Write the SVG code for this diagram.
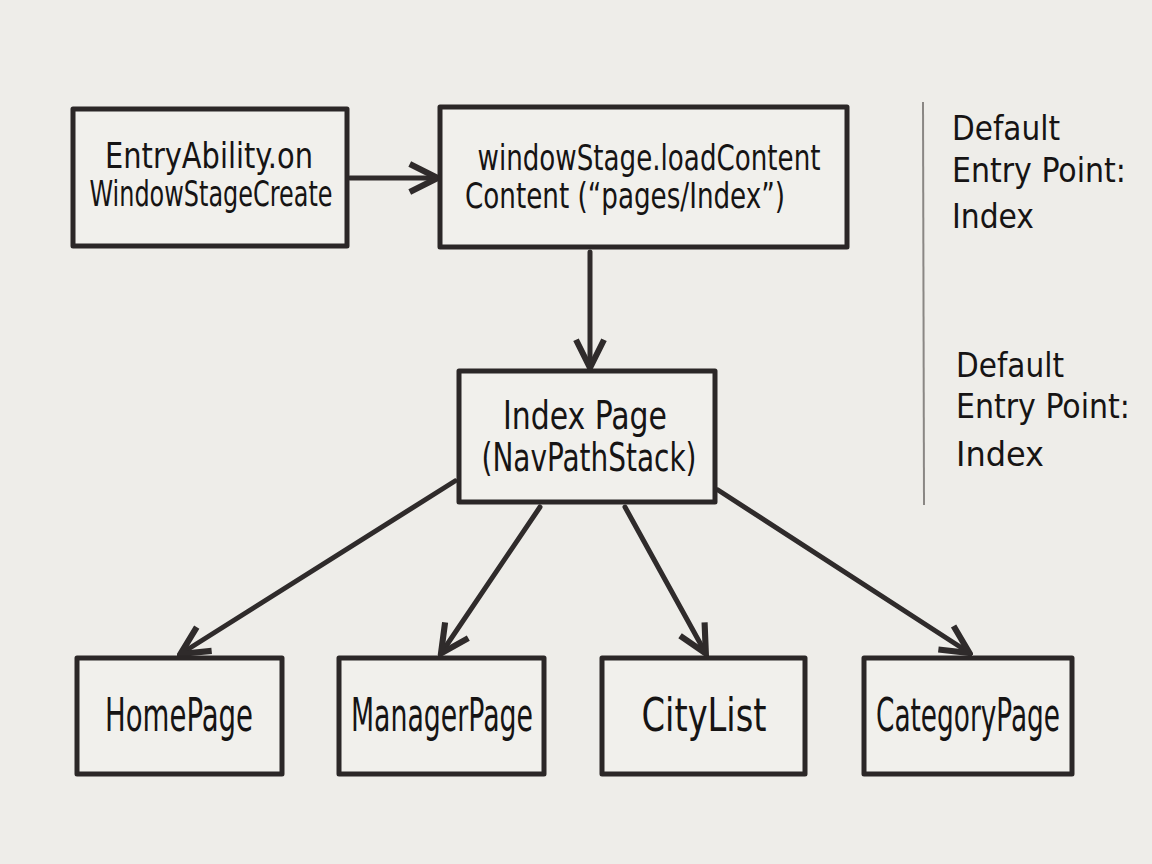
<svg xmlns="http://www.w3.org/2000/svg" width="1152" height="864" viewBox="0 0 1152 864">
<defs>
<style>
.box{fill:#f1f0ec;stroke:#2b2727;stroke-width:5;stroke-linejoin:round}
.t{font-family:"DejaVu Sans Condensed","Liberation Sans Narrow","Liberation Sans",sans-serif;fill:#161414;text-anchor:middle}
.n1{font-size:35px}
.n2{font-size:39px}
.n3{font-size:46px}
.c{stroke:#2f2b2b;stroke-width:5;fill:none;stroke-linecap:round}
.s{font-family:"DejaVu Sans Condensed","Liberation Sans Narrow","Liberation Sans",sans-serif;fill:#161414;font-size:34px}
</style>
<marker id="ah" viewBox="0 0 20 20" refX="17" refY="10" markerWidth="7" markerHeight="7" markerUnits="strokeWidth" orient="auto">
<path d="M2,2 L18,10 L2,18" fill="none" stroke="#2f2b2b" stroke-width="3.5" stroke-linejoin="miter"/>
</marker>
</defs>
<rect width="1152" height="864" fill="#eeede9"/>
<g id="connectors">
<line class="c" x1="350" y1="178" x2="436" y2="178" marker-end="url(#ah)"/>
<line class="c" x1="590" y1="252" x2="590" y2="366" marker-end="url(#ah)"/>
<line class="c" x1="455" y1="481" x2="182" y2="653" marker-end="url(#ah)"/>
<line class="c" x1="540" y1="507" x2="442" y2="652" marker-end="url(#ah)"/>
<line class="c" x1="625" y1="507" x2="705" y2="652" marker-end="url(#ah)"/>
<line class="c" x1="718" y1="490" x2="968" y2="652" marker-end="url(#ah)"/>
</g>
<g id="entryAbility">
<rect class="box" x="73" y="109" width="274" height="137"/>
<text class="t n1" x="209" y="168" textLength="208" lengthAdjust="spacingAndGlyphs">EntryAbility.on</text>
<text class="t n1" x="211" y="206" textLength="243" lengthAdjust="spacingAndGlyphs">WindowStageCreate</text>
</g>
<g id="loadContent">
<rect class="box" x="440" y="107" width="407" height="140"/>
<text class="t n1" x="649" y="170" textLength="343" lengthAdjust="spacingAndGlyphs">windowStage.loadContent</text>
<text class="t n1" x="625" y="208" textLength="320" lengthAdjust="spacingAndGlyphs">Content (“pages/Index”)</text>
</g>
<g id="indexPage">
<rect class="box" x="459" y="371" width="256" height="131"/>
<text class="t n2" x="585" y="429" textLength="164" lengthAdjust="spacingAndGlyphs">Index Page</text>
<text class="t n2" x="589" y="471" textLength="215" lengthAdjust="spacingAndGlyphs">(NavPathStack)</text>
</g>
<g id="homePage">
<rect class="box" x="77" y="658" width="205" height="116"/>
<text class="t n3" x="179" y="731" textLength="148" lengthAdjust="spacingAndGlyphs">HomePage</text>
</g>
<g id="managerPage">
<rect class="box" x="339" y="658" width="205" height="116"/>
<text class="t n3" x="442" y="731" textLength="182" lengthAdjust="spacingAndGlyphs">ManagerPage</text>
</g>
<g id="cityList">
<rect class="box" x="602" y="658" width="203" height="116"/>
<text class="t n3" x="704" y="731" textLength="125" lengthAdjust="spacingAndGlyphs">CityList</text>
</g>
<g id="categoryPage">
<rect class="box" x="864" y="658" width="208" height="116"/>
<text class="t n3" x="968" y="731" textLength="184" lengthAdjust="spacingAndGlyphs">CategoryPage</text>
</g>
<g id="sidenote">
<line x1="923" y1="102" x2="924" y2="505" stroke="#8a8784" stroke-width="2"/>
<text class="s" x="952" y="140" textLength="108" lengthAdjust="spacingAndGlyphs">Default</text>
<text class="s" x="952" y="182" textLength="174" lengthAdjust="spacingAndGlyphs">Entry Point:</text>
<text class="s" x="952" y="228" textLength="82" lengthAdjust="spacingAndGlyphs">Index</text>
<text class="s" x="956" y="377" textLength="108" lengthAdjust="spacingAndGlyphs">Default</text>
<text class="s" x="956" y="418" textLength="174" lengthAdjust="spacingAndGlyphs">Entry Point:</text>
<text class="s" x="956" y="466" textLength="88" lengthAdjust="spacingAndGlyphs">Index</text>
</g>
</svg>
